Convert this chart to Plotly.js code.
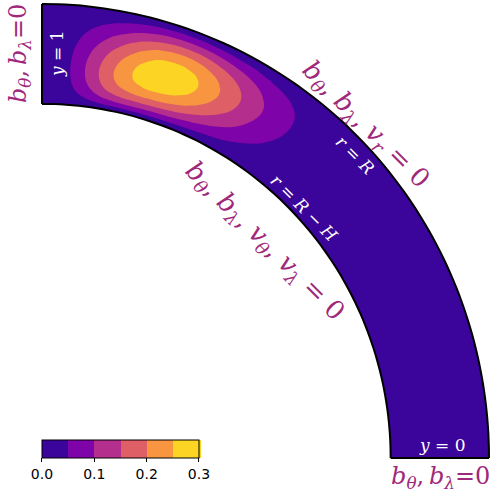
<!DOCTYPE html>
<html><head><meta charset="utf-8">
<script src="https://cdn.plot.ly/plotly-3.0.1.min.js"></script>
<style>html,body{margin:0;padding:0;background:#fff}</style>
</head><body><div id="chart" style="width:491px;height:496px"></div>
<script>
// shell: inner radius R-H, outer radius R (R = 1, H = 0.22)
const innerRadius = 0.78;
const outerRadius = 1.0;
// normalised depth across the shell (0 = inner wall, 1 = outer wall)
const depth = [0,0.05,0.1,0.15,0.2,0.25,0.3,0.35,0.4,0.45,0.5,0.55,0.6,0.65,0.7,0.75,0.8,0.85,0.9,0.95,1];
// normalised shape of the field across the shell
const radialShape = [0,0.156,0.309,0.454,0.588,0.707,0.809,0.891,0.951,0.988,1,0.988,0.951,0.891,0.809,0.707,0.588,0.454,0.309,0.156,0];
// angular position (deg): 0 -> y=0 (horizontal edge), 90 -> y=1 (vertical edge)
const angles = [0,2,4,6,8,10,12,14,16,18,20,22,24,26,28,30,32,34,36,38,40,42,44,46,48,50,52,54,56,58,60,62,64,66,68,70,72,74,76,78,80,82,84,86,88,90];
// field value along the ridge of the blob
const peakProfile = [0,0,0.001,0.001,0.001,0.001,0.001,0.001,0.002,0.002,0.002,0.002,0.002,0.003,0.003,0.003,0.003,0.004,0.004,0.004,0.005,0.007,0.009,0.013,0.020,0.030,0.044,0.064,0.086,0.111,0.142,0.173,0.205,0.237,0.266,0.284,0.289,0.281,0.259,0.226,0.186,0.138,0.090,0.045,0.020,0.004];
// radius of the ridge at each angle
const ridgeRadius = [0.92,0.92,0.92,0.92,0.92,0.92,0.92,0.92,0.92,0.92,0.92,0.92,0.92,0.92,0.92,0.92,0.92,0.92,0.92,0.92,0.92,0.92,0.92,0.92,0.92,0.919,0.916,0.912,0.908,0.903,0.899,0.896,0.893,0.890,0.887,0.884,0.881,0.877,0.872,0.867,0.863,0.862,0.862,0.862,0.862,0.862];
const levelColors = ['#3b049a','#7e03a8','#b42e8d','#de5f65','#f89540','#fbd424'];
const tickVals = [0,0.1,0.2,0.3];
const tickText = ['0.0','0.1','0.2','0.3'];

// carpet geometry: depth -> radius, with mid-depth sitting on the ridge
const deg = Math.PI/180;
const H = outerRadius - innerRadius;
const radiusAt = (s, rc) => {
  const c = 4*((rc - innerRadius)/H - 0.5);
  return innerRadius + H*(s + c*s*(1-s));
};
const X = angles.map((t,j) => depth.map(s => radiusAt(s, ridgeRadius[j])*Math.cos(t*deg)));
const Y = angles.map((t,j) => depth.map(s => radiusAt(s, ridgeRadius[j])*Math.sin(t*deg)));
const Z = peakProfile.map(p => radialShape.map(v => p*v));

const scale = [];
levelColors.forEach((c,i)=>{ scale.push([i/6,c]); scale.push([(i+1)/6,c]); });

const axisStyle = {showgrid:false, showticklabels:'none', showline:false,
  startline:true, endline:true, startlinecolor:'black', endlinecolor:'black',
  startlinewidth:2, endlinewidth:2, minorgridcount:0, smoothing:1};

const traces = [
  {type:'contourcarpet', carpet:'shell', a:depth, b:angles, z:Z,
   autocontour:false, contours:{start:0, end:0.30001, size:0.05, coloring:'fill', showlines:false},
   line:{width:0}, zmin:0, zmax:0.30001, zauto:false, colorscale:scale,
   colorbar:{orientation:'h', x:0.0044, xanchor:'left', y:0.0437, yanchor:'top',
     len:157, lenmode:'pixels', thickness:18, xpad:0, ypad:0,
     outlinewidth:1, outlinecolor:'black', tickmode:'array', tickvals:tickVals, ticktext:tickText,
     ticks:'outside', ticklen:4, tickcolor:'black', tickwidth:1,
     tickfont:{family:'DejaVu Sans', size:14, color:'black'}}},
  {type:'carpet', carpet:'shell', a:depth, b:angles, x:X, y:Y,
   aaxis:axisStyle, baxis:axisStyle}
];

const mag = '#a0287a';
const bigFont = {family:'DejaVu Serif', size:26, color:mag};
const edgeFont = {family:'DejaVu Serif', size:24, color:mag};
const whiteFont = {family:'DejaVu Serif', size:17, color:'white'};
const bt = '<i>b</i><sub><i>θ</i></sub>';
const bl = '<i>b</i><sub><i>λ</i></sub>';
const ann = (x,y,text,angle,font) => ({x, y, xref:'paper', yref:'paper', text, textangle:angle, font,
  showarrow:false, xanchor:'center', yanchor:'middle'});

const layout = {
  width:491, height:496, margin:{l:40, r:0, t:2, b:36},
  paper_bgcolor:'white', plot_bgcolor:'white', showlegend:false,
  xaxis:{range:[-0.004474,1.004474], visible:false},
  yaxis:{range:[-0.004405,1.004405], visible:false},
  annotations:[
    ann(0.889,-0.0393, bt+',\u2009'+bl+'=0', 0, edgeFont),
    ann(-0.0443,0.8865, bt+',\u2009'+bl+'=0', -90, edgeFont),
    ann(0.7228,0.7314, bt+', '+bl+', <i>v</i><sub><i>r</i></sub> = 0', 45, bigFont),
    ann(0.4967,0.476, bt+', '+bl+', <i>v</i><sub><i>θ</i></sub>, <i>v</i><sub><i>λ</i></sub> = 0', 45, bigFont),
    ann(0.0377,0.8865, '<i>y</i> = 1', -90, whiteFont),
    ann(0.8914,0.0328, '<i>y</i> = 0', 0, whiteFont),
    ann(0.6984,0.666, '<i>r</i> = <i>R</i>', 45, whiteFont),
    ann(0.5854,0.5502, '<i>r</i> = <i>R</i> − <i>H</i>', 45, whiteFont)
  ]
};
Plotly.newPlot('chart', traces, layout, {displayModeBar:false, staticPlot:true});
</script></body></html>
